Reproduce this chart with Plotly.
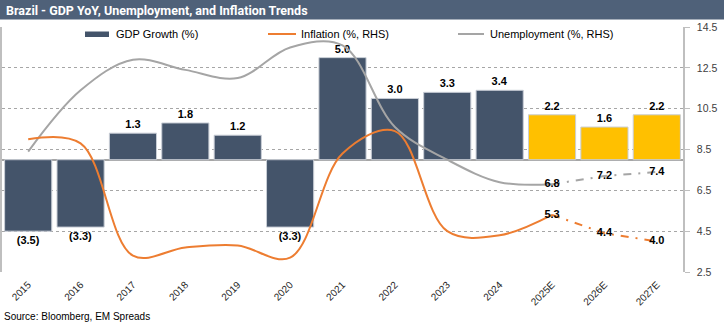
import plotly.graph_objects as go

# ---- data ----
years = ["2015", "2016", "2017", "2018", "2019", "2020", "2021",
         "2022", "2023", "2024", "2025E", "2026E", "2027E"]
gdp_growth = [-3.5, -3.3, 1.3, 1.8, 1.2, -3.3, 5.0, 3.0, 3.3, 3.4, 2.2, 1.6, 2.2]
inflation = [9.0, 8.8, 3.3, 3.7, 3.8, 3.2, 8.3, 9.4, 4.5, 4.3, 5.3, 4.4, 4.0]
unemployment = [8.4, 11.4, 12.9, 12.4, 12.0, 13.5, 13.6, 9.6, 8.0, 6.9, 6.8, 7.2, 7.4]
n_actual = 10  # first forecast year index (2025E)

# ---- styling ----
W, H = 724, 325
L, R, T, B = 2, 41, 27, 53
PW, PH = W - L - R, H - T - B
NAVY = "#44546A"
GOLD = "#FFC000"
ORANGE = "#ED7D31"
GREY = "#A5A5A5"
FONT = "Liberation Sans"


def px(x):
    return (x - L) / PW


def py(y):
    return (H - B - y) / PH


def fmt(v):
    return f"({abs(v):.1f})" if v < 0 else f"{v:.1f}"


fig = go.Figure()

bar_colors = [GOLD if y.endswith("E") else NAVY for y in years]
fig.add_trace(go.Bar(
    x=years, y=gdp_growth, yaxis="y",
    marker=dict(color=bar_colors, line=dict(color="#C9CED6", width=1)),
    text=[fmt(v) for v in gdp_growth], textposition="outside",
    textfont=dict(family=FONT, size=11, color="#000000", weight="bold"),
    constraintext="none", cliponaxis=False, showlegend=False,
))

# actual history (smoothed) through the first forecast year
fig.add_trace(go.Scatter(
    x=years[:n_actual + 1], y=unemployment[:n_actual + 1], yaxis="y2",
    mode="lines", line=dict(color=GREY, width=2, shape="spline", smoothing=1.0),
    showlegend=False,
))
fig.add_trace(go.Scatter(
    x=years[:n_actual + 1], y=inflation[:n_actual + 1], yaxis="y2",
    mode="lines", line=dict(color=ORANGE, width=2, shape="spline", smoothing=1.0),
    showlegend=False,
))

# forecast path with value labels
for series, color in ((unemployment, GREY), (inflation, ORANGE)):
    fig.add_trace(go.Scatter(
        x=years[n_actual:], y=series[n_actual:], yaxis="y2",
        mode="lines+text",
        line=dict(color=color, width=2, dash="8px,7px,2px,7px"),
        text=[f"{v:.1f}" for v in series[n_actual:]],
        textposition="middle center",
        textfont=dict(family=FONT, size=11, color="#000000", weight="bold"),
        cliponaxis=False, showlegend=False,
    ))

shapes = [
    # title banner
    dict(type="rect", xref="paper", yref="paper",
         x0=px(0), x1=px(W), y0=py(19.5), y1=py(0),
         fillcolor="#4F6179", line=dict(width=0), layer="above"),
    # legend keys
    dict(type="rect", xref="paper", yref="paper",
         x0=px(85), x1=px(109), y0=py(37), y1=py(31.5),
         fillcolor=NAVY, line=dict(width=0)),
    dict(type="line", xref="paper", yref="paper",
         x0=px(268), x1=px(296), y0=py(34), y1=py(34),
         line=dict(color=ORANGE, width=2)),
    dict(type="line", xref="paper", yref="paper",
         x0=px(458), x1=px(484), y0=py(34), y1=py(34),
         line=dict(color=GREY, width=2)),
]

annotations = [
    dict(text="Brazil - GDP YoY, Unemployment, and Inflation Trends",
         xref="paper", yref="paper", x=px(4), y=py(10.5),
         xanchor="left", yanchor="middle", showarrow=False,
         font=dict(family="Roboto", size=12.5, color="#FFFFFF", weight="bold")),
    dict(text="GDP Growth (%)", xref="paper", yref="paper",
         x=px(114), y=py(34), xanchor="left", yanchor="middle", showarrow=False,
         font=dict(family=FONT, size=11, color="#000000")),
    dict(text="Inflation (%, RHS)", xref="paper", yref="paper",
         x=px(299), y=py(34), xanchor="left", yanchor="middle", showarrow=False,
         font=dict(family=FONT, size=11, color="#000000")),
    dict(text="Unemployment (%, RHS)", xref="paper", yref="paper",
         x=px(488), y=py(34), xanchor="left", yanchor="middle", showarrow=False,
         font=dict(family=FONT, size=11, color="#000000")),
    dict(text="Source: Bloomberg, EM Spreads", xref="paper", yref="paper",
         x=px(2), y=py(316), xanchor="left", yanchor="middle", showarrow=False,
         font=dict(family=FONT, size=10, color="#000000")),
]

fig.update_layout(
    width=W, height=H,
    margin=dict(l=L, r=R, t=T, b=B, pad=0),
    paper_bgcolor="#FFFFFF", plot_bgcolor="#FFFFFF",
    bargap=0.1,
    font=dict(family=FONT, size=10, color="#404040"),
    showlegend=False,
    shapes=shapes, annotations=annotations,
    xaxis=dict(
        type="category", categoryorder="array", categoryarray=years,
        range=[-0.5, len(years) - 0.5],
        tickangle=-45, tickfont=dict(family=FONT, size=10, color="#262626"),
        ticklabelstandoff=4,
        showgrid=False, showline=False, ticks="", zeroline=False,
    ),
    yaxis=dict(
        range=[-5.5, 6.5], showgrid=False, showticklabels=False, ticks="",
        zeroline=True, zerolinecolor="#A6A6A6", zerolinewidth=1.5,
        showline=True, linecolor="#BFBFBF", linewidth=1.5,
    ),
    yaxis2=dict(
        overlaying="y", side="right", range=[2.5, 14.5],
        tick0=2.5, dtick=2, tickformat=".1f",
        showgrid=True, gridcolor="#A6A6A6", griddash="dot", gridwidth=1,
        zeroline=False, showline=True, linecolor="#BFBFBF", linewidth=1.5,
        ticks="outside", ticklen=5, tickcolor="#BFBFBF",
        ticklabelstandoff=5,
        tickfont=dict(family=FONT, size=10.5, color="#404040"),
    ),
)

fig.write_html("out.html")
